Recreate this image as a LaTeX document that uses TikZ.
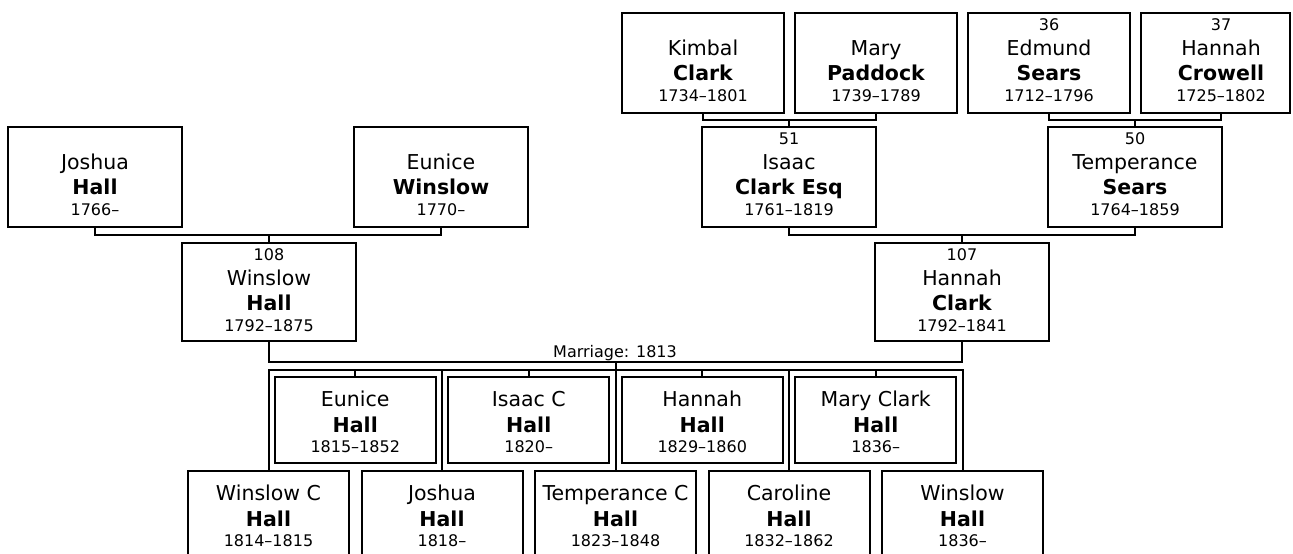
\documentclass[tikz,border=0pt]{standalone}
\usepackage{fontspec}
\setmainfont{DejaVu Sans}
\tikzset{
  pbox/.style={draw, line width=2pt, rectangle, inner sep=0pt, fill=white},
  conn/.style={line width=2pt},
  nmf/.style={font=\fontsize{20.5}{24}\selectfont, inner sep=0pt, anchor=base},
  snf/.style={font=\fontsize{20.5}{24}\selectfont\bfseries, inner sep=0pt, anchor=base},
  smf/.style={font=\fontsize{16}{19}\selectfont, inner sep=0pt, anchor=base},
}
\newcommand\anc[9]{%
  \node[pbox, minimum width=#4pt, minimum height=#5pt] (#1) at (#2,{#3+#5/2}) {};
  \node[smf] (#1-n) at (#2,{#3+17}) {#6};
  \node[nmf] (#1-f) at (#2,{#3+42}) {#7};
  \node[snf] (#1-l) at (#2,{#3+67}) {#8};
  \node[smf] (#1-y) at (#2,{#3+88}) {#9};
}
\newcommand\kid[6]{%
  \node[pbox, minimum width=161pt, minimum height=86pt] (#1) at (#2,{#3+43}) {};
  \node[nmf] (#1-f) at (#2,{#3+29}) {#4};
  \node[snf] (#1-l) at (#2,{#3+55}) {#5};
  \node[smf] (#1-y) at (#2,{#3+75}) {#6};
}
\begin{document}
\begin{tikzpicture}[x=1pt,y=-1pt]
\useasboundingbox (0,0) rectangle (1293,554);
\fill[white] (0,0) rectangle (1293,554);

% generation 3
\anc{kim}{703}{13}{162}{100}{}{Kimbal}{Clark}{1734–1801}
\anc{mar}{876}{13}{162}{100}{}{Mary}{Paddock}{1739–1789}
\anc{edm}{1049}{13}{162}{100}{36}{Edmund}{Sears}{1712–1796}
\node[pbox, minimum width=149pt, minimum height=100pt] (hcw) at (1215.5,63) {};
\node[smf] (hcw-n) at (1221,30) {37};
\node[nmf] (hcw-f) at (1221,55) {Hannah};
\node[snf] (hcw-l) at (1221,80) {Crowell};
\node[smf] (hcw-y) at (1221,101) {1725–1802};
\coordinate (hcwt) at (1221,113);

% generation 2
\anc{jos}{95}{127}{174}{100}{}{Joshua}{Hall}{1766–}
\anc{euw}{441}{127}{174}{100}{}{Eunice}{Winslow}{1770–}
\anc{isa}{789}{127}{174}{100}{51}{Isaac}{Clark Esq}{1761–1819}
\anc{tem}{1135}{127}{174}{100}{50}{Temperance}{Sears}{1764–1859}

% generation 1
\anc{win}{269}{243}{174}{98}{108}{Winslow}{Hall}{1792–1875}
\anc{han}{962}{243}{174}{98}{107}{Hannah}{Clark}{1792–1841}

% children
\kid{c1}{268.5}{471}{Winslow C}{Hall}{1814–1815}
\kid{c2}{355.25}{377}{Eunice}{Hall}{1815–1852}
\kid{c3}{442}{471}{Joshua}{Hall}{1818–}
\kid{c4}{528.75}{377}{Isaac C}{Hall}{1820–}
\kid{c5}{615.5}{471}{Temperance C}{Hall}{1823–1848}
\kid{c6}{702.25}{377}{Hannah}{Hall}{1829–1860}
\kid{c7}{789}{471}{Caroline}{Hall}{1832–1862}
\kid{c8}{875.75}{377}{Mary Clark}{Hall}{1836–}
\kid{c9}{962.5}{471}{Winslow}{Hall}{1836–}

\coordinate (j1) at (0,120);
\coordinate (j2) at (0,235);
\coordinate (mline) at (0,362);
\coordinate (sib) at (0,370);

% connectors
\draw[conn] (kim.south) -- (kim.south |- j1) -- (mar.south |- j1) -- (mar.south);
\draw[conn] (isa.north) -- (isa.north |- j1);
\draw[conn] (edm.south) -- (edm.south |- j1) -- (hcwt |- j1) -- (hcwt);
\draw[conn] (tem.north) -- (tem.north |- j1);
\draw[conn] (jos.south) -- (jos.south |- j2) -- (euw.south |- j2) -- (euw.south);
\draw[conn] (win.north) -- (win.north |- j2);
\draw[conn] (isa.south) -- (isa.south |- j2) -- (tem.south |- j2) -- (tem.south);
\draw[conn] (han.north) -- (han.north |- j2);

\draw[conn] (win.south) -- (win.south |- mline) -- (han.south |- mline) -- (han.south);
\node[smf] (mlab) at (615,357) {Marriage: 1813};
\draw[conn] (c5.north) -- (c5.north |- mline);
\draw[conn, line cap=rect] (c1.north |- sib) -- (c9.north |- sib);
\foreach \c in {c1,c2,c3,c4,c5,c6,c7,c8,c9}
  \draw[conn] (\c.north) -- (\c.north |- sib);
\end{tikzpicture}
\end{document}
